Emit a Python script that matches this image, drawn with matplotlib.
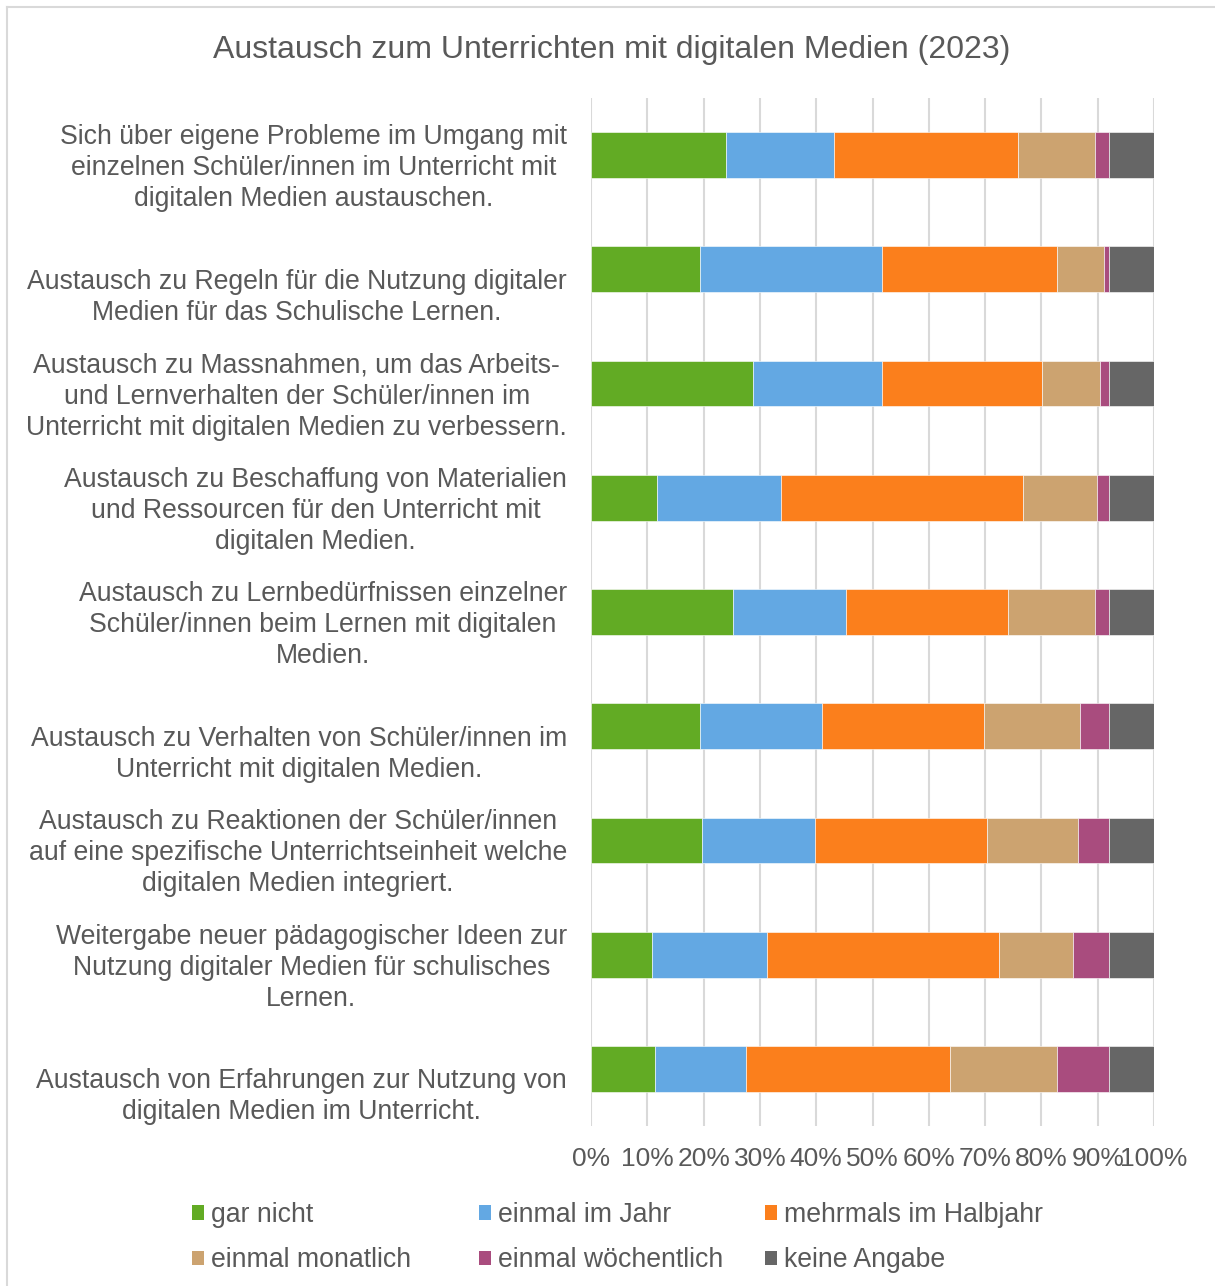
import matplotlib
matplotlib.use("Agg")
import matplotlib.pyplot as plt
from matplotlib.patches import Patch
from matplotlib.lines import Line2D
from matplotlib.transforms import blended_transform_factory, offset_copy
import numpy as np

plt.rcParams['font.family'] = ['Liberation Sans', 'DejaVu Sans']

title = "Austausch zum Unterrichten mit digitalen Medien (2023)"

categories = [
    "Sich über eigene Probleme im Umgang mit\neinzelnen Schüler/innen im Unterricht mit\ndigitalen Medien austauschen.",
    "Austausch zu Regeln für die Nutzung digitaler\nMedien für das Schulische Lernen.",
    "Austausch zu Massnahmen, um das Arbeits-\nund Lernverhalten der Schüler/innen im\nUnterricht mit digitalen Medien zu verbessern.",
    "Austausch zu Beschaffung von Materialien\nund Ressourcen für den Unterricht mit\ndigitalen Medien.",
    "Austausch zu Lernbedürfnissen einzelner\nSchüler/innen beim Lernen mit digitalen\nMedien.",
    "Austausch zu Verhalten von Schüler/innen im\nUnterricht mit digitalen Medien.",
    "Austausch zu Reaktionen der Schüler/innen\nauf eine spezifische Unterrichtseinheit welche\ndigitalen Medien integriert.",
    "Weitergabe neuer pädagogischer Ideen zur\nNutzung digitaler Medien für schulisches\nLernen.",
    "Austausch von Erfahrungen zur Nutzung von\ndigitalen Medien im Unterricht.",
]

series_names = ["gar nicht", "einmal im Jahr", "mehrmals im Halbjahr",
                "einmal monatlich", "einmal wöchentlich", "keine Angabe"]

gar_nicht          = [24.0, 19.3, 28.7, 11.7, 25.3, 19.3, 19.8, 10.8, 11.3]
einmal_im_jahr     = [19.2, 32.4, 23.0, 22.0, 20.0, 21.7, 20.0, 20.5, 16.2]
mehrmals_halbjahr  = [32.6, 31.0, 28.4, 43.0, 28.8, 28.8, 30.5, 41.2, 36.2]
einmal_monatlich   = [13.7,  8.5, 10.3, 13.2, 15.4, 17.1, 16.2, 13.1, 19.0]
einmal_woechentlich= [ 2.5,  0.8,  1.6,  2.1,  2.5,  5.1,  5.5,  6.4,  9.3]
keine_angabe       = [ 8.0,  8.0,  8.0,  8.0,  8.0,  8.0,  8.0,  8.0,  8.0]

xticks = [0, 10, 20, 30, 40, 50, 60, 70, 80, 90, 100]
xticklabels = ["0%", "10%", "20%", "30%", "40%", "50%", "60%", "70%", "80%", "90%", "100%"]

colors = ["#62AB24", "#63A8E3", "#FB7F1C", "#CCA370", "#A94C7E", "#666666"]
text_color = "#595959"
grid_color = "#D9D9D9"

W, H = 1215, 1286
fig = plt.figure(figsize=(W / 100, H / 100), dpi=100)

# axes placement in pixels
left_px, right_px, top_px, bottom_px = 591, 1154, 98, 1126
ax = fig.add_axes([left_px / W, 1 - bottom_px / H,
                   (right_px - left_px) / W, (bottom_px - top_px) / H])

series = [gar_nicht, einmal_im_jahr, mehrmals_halbjahr,
          einmal_monatlich, einmal_woechentlich, keine_angabe]
y = np.arange(len(categories))
left = np.zeros(len(categories))
for name, vals, col in zip(series_names, series, colors):
    vals = np.array(vals)
    ax.barh(y, vals, left=left, height=0.40, color=col, label=name,
            edgecolor="white", linewidth=0.4, zorder=3)
    left += vals

ax.set_xlim(0, 100)
ax.set_ylim(len(categories) - 0.5, -0.5)
ax.set_xticks(xticks)
ax.set_xticklabels(xticklabels)
ax.tick_params(axis="x", length=0, pad=15, labelsize=19, labelcolor=text_color)
ax.set_yticks([])
for s in ax.spines.values():
    s.set_visible(False)
ax.grid(axis="x", color=grid_color, linewidth=1.5, zorder=0)
ax.set_axisbelow(True)

# category labels
trans = blended_transform_factory(ax.transAxes, ax.transData)
for i, lab in enumerate(categories):
    nlines = lab.count("\n") + 1
    dy = -13 if nlines == 3 else -28
    t = offset_copy(trans, fig=fig, x=0, y=dy, units="dots")
    ax.text((567 - left_px) / (right_px - left_px), i, lab, transform=t,
            ha="right", va="center", multialignment="center",
            fontsize=19.2, color=text_color, linespacing=1.25)

fig.text(612 / W, 1 - 50 / H, title, ha="center", va="center",
         fontsize=23, color=text_color)

# legend (three columns, two rows)
handles = [Patch(facecolor=c, edgecolor="none") for c in colors]
col_x = [192, 479, 765]
for k in range(3):
    hs = [handles[k], handles[k + 3]]
    ls = [series_names[k], series_names[k + 3]]
    leg = fig.legend(hs, ls, loc="upper left",
                     bbox_to_anchor=(col_x[k] / W, 1 - 1202 / H),
                     frameon=False, fontsize=19.2, handlelength=0.45,
                     handleheight=0.45, handletextpad=0.25,
                     labelspacing=0.72, borderpad=0, borderaxespad=0)
    for txt in leg.get_texts():
        txt.set_color(text_color)

# outer border (top and left visible)
fig.add_artist(Line2D([7 / W, 1.0], [1 - 7 / H, 1 - 7 / H],
                      transform=fig.transFigure, color=grid_color, linewidth=1.5))
fig.add_artist(Line2D([7 / W, 7 / W], [0.0, 1 - 7 / H],
                      transform=fig.transFigure, color=grid_color, linewidth=1.5))

fig.savefig("out.png", dpi=100, facecolor="white")
